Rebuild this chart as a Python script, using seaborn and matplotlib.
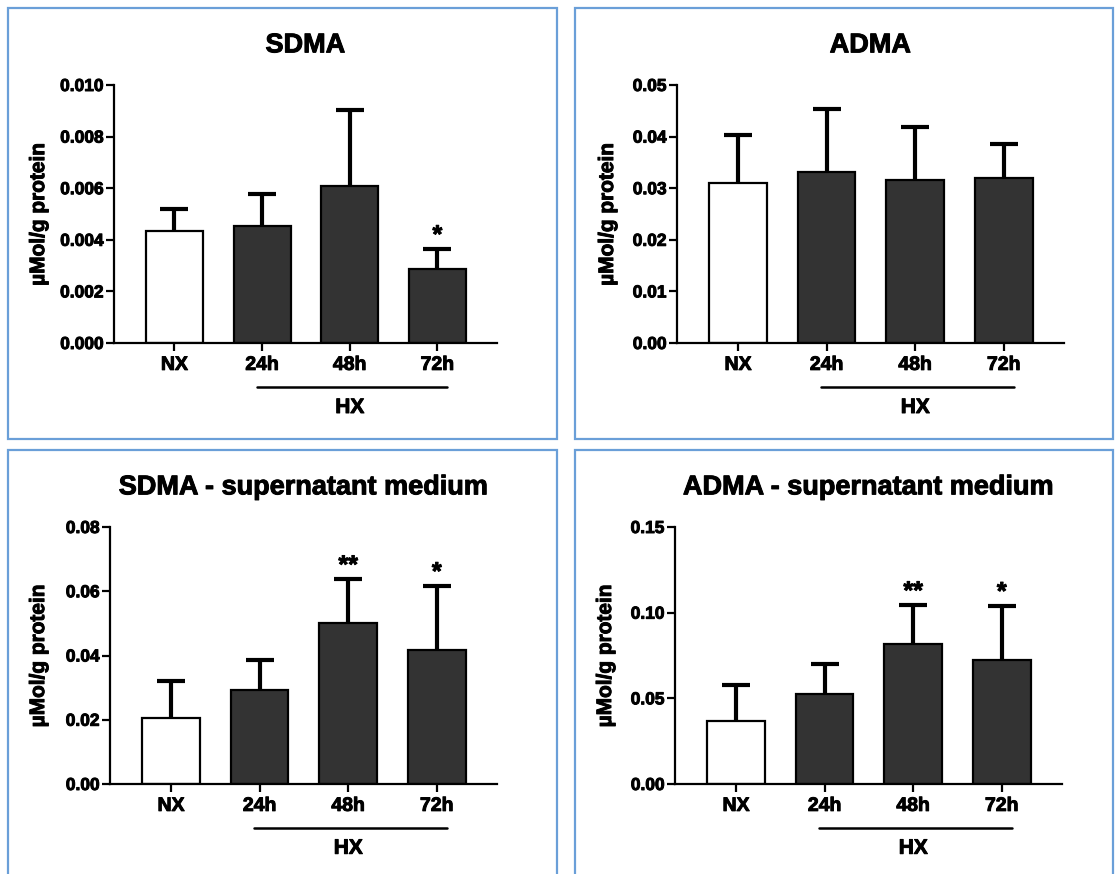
import matplotlib
matplotlib.use("Agg")
import matplotlib.pyplot as plt
import matplotlib.transforms as mtransforms
import matplotlib.patheffects as pe
from matplotlib.patches import Rectangle
import seaborn as sns

# Group labels
groups = ["NX", "24h", "48h", "72h"]

# Cell lysate SDMA (mean and upper SD)
sdma_mean = [0.00433, 0.00455, 0.00609, 0.00285]
sdma_sd = [0.00085, 0.00124, 0.00296, 0.00080]
sdma_sig = ["", "", "", "*"]

# Cell lysate ADMA
adma_mean = [0.0310, 0.0332, 0.0315, 0.0320]
adma_sd = [0.0094, 0.0121, 0.0103, 0.0065]
adma_sig = ["", "", "", ""]

# SDMA in supernatant medium
sdma_sup_mean = [0.0206, 0.0294, 0.0502, 0.0416]
sdma_sup_sd = [0.0115, 0.0091, 0.0136, 0.0201]
sdma_sup_sig = ["", "", "**", "*"]

# ADMA in supernatant medium
adma_sup_mean = [0.0366, 0.0528, 0.0819, 0.0722]
adma_sup_sd = [0.0211, 0.0173, 0.0226, 0.0319]
adma_sup_sig = ["", "", "**", "*"]

# Axis settings
sdma_ticks = [0.000, 0.002, 0.004, 0.006, 0.008, 0.010]
adma_ticks = [0.00, 0.01, 0.02, 0.03, 0.04, 0.05]
sdma_sup_ticks = [0.00, 0.02, 0.04, 0.06, 0.08]
adma_sup_ticks = [0.00, 0.05, 0.10, 0.15]

sns.set_theme(style="ticks")
plt.rcParams["font.family"] = ["Liberation Sans", "DejaVu Sans"]
plt.rcParams["font.weight"] = "bold"
for key in ["text.color", "axes.labelcolor", "xtick.color", "ytick.color",
            "axes.edgecolor"]:
    plt.rcParams[key] = "black"

W, H = 1115, 874
fig = plt.figure(figsize=(W / 100, H / 100), dpi=100)
fig.patch.set_facecolor("white")

BORDER = "#6a9fd8"
for (x0, y0, x1, y1) in [(8, 8, 557, 439), (575, 8, 1113, 439),
                         (8, 450, 557, 880), (575, 450, 1113, 880)]:
    fig.patches.append(Rectangle((x0 / W, 1 - y1 / H), (x1 - x0) / W, (y1 - y0) / H,
                                 transform=fig.transFigure, fill=False,
                                 edgecolor=BORDER, linewidth=1.6, zorder=0))


def px_rect(x0, x1, top, bottom):
    return [x0 / W, 1 - bottom / H, (x1 - x0) / W, (bottom - top) / H]


DARK = "#333333"
bar_colors = ["white", DARK, DARK, DARK]
heavy = [pe.withStroke(linewidth=0.7, foreground="black")]


def panel(rect, title, means, sds, sig, ticks, fmt, labx):
    ax = fig.add_axes(rect)
    sns.barplot(x=groups, y=means, hue=groups, palette=bar_colors, legend=False,
                edgecolor="black", linewidth=1.6, width=0.65, errorbar=None,
                ax=ax, zorder=2)
    eb = ax.errorbar(range(len(groups)), means, yerr=[[0] * len(sds), sds],
                     fmt="none", ecolor="black", elinewidth=3.0, capsize=10,
                     capthick=3.0, zorder=3)
    # hide the lower caps so only the upper whisker shows
    eb[1][0].set_visible(False)
    for i, s in enumerate(sig):
        if s:
            ax.annotate(s, (i, means[i] + sds[i]), xytext=(0, 1),
                        textcoords="offset points", ha="center", va="bottom",
                        fontsize=18, fontweight="bold", color="black",
                        path_effects=heavy)
    ax.set_xlim(-0.69, 3.68)
    ax.set_ylim(ticks[0], ticks[-1])
    ax.set_yticks(ticks)
    ax.set_yticklabels([fmt.format(t) for t in ticks], fontsize=12.5,
                       fontweight="bold", path_effects=heavy)
    ax.set_xticks(range(len(groups)))
    ax.set_xticklabels(groups, fontsize=14, fontweight="bold", path_effects=heavy)
    for sp in ["top", "right"]:
        ax.spines[sp].set_visible(False)
    for sp in ["left", "bottom"]:
        ax.spines[sp].set_linewidth(1.6)
        ax.spines[sp].set_color("black")
    ax.tick_params(axis="y", length=6, width=1.6, pad=1.5, colors="black")
    ax.tick_params(axis="x", length=6, width=1.6, pad=4, colors="black")
    ax.set_xlabel("")
    ax.set_ylabel("µMol/g protein", fontsize=15, fontweight="bold",
                  path_effects=heavy)
    ax.yaxis.set_label_coords(labx, 0.5)
    ax.set_title(title, fontsize=19.5, fontweight="bold", pad=23.5,
                 color="black", path_effects=heavy)
    # HX bracket under the hypoxia groups
    trans = mtransforms.blended_transform_factory(ax.transData, ax.transAxes)
    ax.plot([0.94, 3.11], [-0.171, -0.171], color="black", linewidth=1.8,
            transform=trans, clip_on=False)
    ax.text(2.0, -0.25, "HX", transform=trans, ha="center", va="center",
            fontsize=15, fontweight="bold", path_effects=heavy)
    ax.set_facecolor("white")
    return ax


panel(px_rect(114, 497, 85, 343), "SDMA", sdma_mean, sdma_sd, sdma_sig,
      sdma_ticks, "{:.3f}", -0.172)
panel(px_rect(677, 1064, 85, 343), "ADMA", adma_mean, adma_sd, adma_sig,
      adma_ticks, "{:.2f}", -0.155)
panel(px_rect(110, 497, 527, 784), "SDMA - supernatant medium", sdma_sup_mean,
      sdma_sup_sd, sdma_sup_sig, sdma_sup_ticks, "{:.2f}", -0.160)
panel(px_rect(675, 1062, 527, 784), "ADMA - supernatant medium", adma_sup_mean,
      adma_sup_sd, adma_sup_sig, adma_sup_ticks, "{:.2f}", -0.155)

fig.savefig("out.png", dpi=100, facecolor="white")
